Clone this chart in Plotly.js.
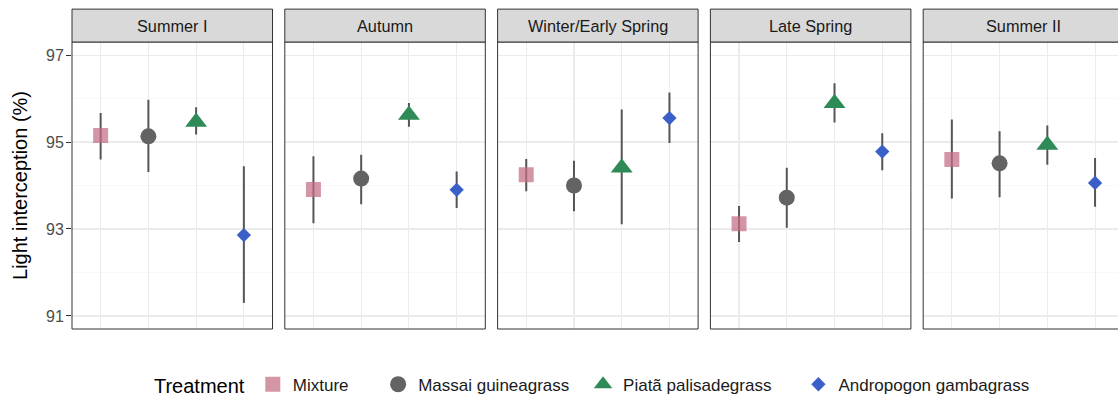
<!DOCTYPE html>
<html>
<head>
<meta charset="utf-8">
<script src="https://cdn.plot.ly/plotly-3.0.1.min.js"></script>
<style>
html, body { margin: 0; padding: 0; overflow: hidden; background: #fff; }
#chart { width: 1125px; height: 403px; }
</style>
</head>
<body>
<div id="chart"></div>
<script>
const seasons = ['Summer I', 'Autumn', 'Winter/Early Spring', 'Late Spring', 'Summer II'];
const treatments = ['Mixture', 'Massai guineagrass', 'Piatã palisadegrass', 'Andropogon gambagrass'];

const mixtureMean = [95.15, 93.91, 94.25, 93.12, 94.60];
const mixtureLow  = [94.60, 93.13, 93.87, 92.70, 93.70];
const mixtureHigh = [95.67, 94.67, 94.61, 93.53, 95.52];

const massaiMean = [95.13, 94.16, 94.00, 93.72, 94.51];
const massaiLow  = [94.31, 93.57, 93.41, 93.03, 93.73];
const massaiHigh = [95.97, 94.71, 94.57, 94.41, 95.25];

const piataMean = [95.46, 95.62, 94.41, 95.89, 94.93];
const piataLow  = [95.17, 95.35, 93.11, 95.45, 94.48];
const piataHigh = [95.80, 95.90, 95.75, 96.35, 95.38];

const andropMean = [92.86, 93.90, 95.55, 94.78, 94.06];
const andropLow  = [91.30, 93.48, 94.98, 94.35, 93.51];
const andropHigh = [94.44, 94.32, 96.14, 95.20, 94.63];

const yTicks = [91, 93, 95, 97];

const series = [
  {mean: mixtureMean, low: mixtureLow, high: mixtureHigh, color: 'rgba(196,110,132,0.72)', symbol: 'square', size: 15},
  {mean: massaiMean, low: massaiLow, high: massaiHigh, color: '#636363', symbol: 'circle', size: 16},
  {mean: piataMean, low: piataLow, high: piataHigh, color: '#2E8B57', symbol: 'triangle-up', size: 19},
  {mean: andropMean, low: andropLow, high: andropHigh, color: '#3A5FC8', symbol: 'diamond', size: 11}
];

const W = 1125, H = 403;
const mL = 72, mR = 1, mT = 42, mB = 73;
const plotW = W - mL - mR, plotH = H - mT - mB;
const panelW = 200.5, step = 212.8;
const stripH = 33;

const legendNames = ['legend', 'legend2', 'legend3', 'legend4'];
const legendX = [0.076, 0.291, 0.4858, 0.6905];

const traces = [];
const layout = {
  width: W, height: H,
  margin: {l: mL, r: mR, t: mT, b: mB, pad: 0},
  paper_bgcolor: '#fff', plot_bgcolor: '#fff',
  font: {family: 'Liberation Sans, Arial, sans-serif', color: '#1a1a1a'},
  showlegend: true,
  yaxis: {
    range: [90.7, 97.3], tickvals: yTicks, ticktext: yTicks.map(String),
    ticks: 'outside', ticklen: 5, tickwidth: 1, tickcolor: '#333',
    tickfont: {size: 16, color: '#4d4d4d'}, ticklabelstandoff: -1,
    showgrid: true, gridcolor: '#EBEBEB', gridwidth: 1.1,
    minor: {dtick: 1, tick0: 91, showgrid: true, gridcolor: '#F3F3F3', gridwidth: 0.6},
    zeroline: false, showline: false,
    title: {text: 'Light interception (%)', font: {size: 20, color: '#000'}, standoff: 13},
    domain: [0, 1]
  },
  shapes: [], annotations: []
};

legendNames.forEach((ln, k) => {
  layout[ln] = {
    orientation: 'h', x: legendX[k], xanchor: 'left', y: -0.19, yanchor: 'middle',
    font: {size: 17, color: '#1a1a1a'}, bgcolor: 'rgba(0,0,0,0)',
    itemsizing: 'trace', itemclick: false, itemdoubleclick: false
  };
});
layout.legend.title = {text: 'Treatment', side: 'left', font: {size: 20, color: '#000'}};

seasons.forEach((s, i) => {
  const ax = i === 0 ? 'xaxis' : 'xaxis' + (i + 1);
  const xr = i === 0 ? 'x' : 'x' + (i + 1);
  const d0 = (i * step) / plotW, d1 = (i * step + panelW) / plotW;
  layout[ax] = {
    domain: [d0, Math.min(d1, 1)], range: [0.4, 4.6], anchor: 'y',
    tickvals: [1, 2, 3, 4], showticklabels: false, ticks: '',
    showgrid: true, gridcolor: '#EBEBEB', gridwidth: 1.1,
    zeroline: false, showline: false, fixedrange: true
  };
  layout.shapes.push({type: 'rect', xref: xr + ' domain', yref: 'y domain', x0: 0, x1: 1, y0: 0, y1: 1,
    line: {color: '#333', width: 1}, fillcolor: 'rgba(0,0,0,0)', layer: 'above'});
  layout.shapes.push({type: 'rect', xref: xr + ' domain', yref: 'paper', x0: 0, x1: 1, y0: 1, y1: 1 + stripH / plotH,
    line: {color: '#333', width: 1}, fillcolor: '#D9D9D9', layer: 'above'});
  layout.annotations.push({text: s, xref: xr + ' domain', yref: 'paper', x: 0.5, y: 1 + stripH / 2 / plotH,
    xanchor: 'center', yanchor: 'middle', showarrow: false, font: {size: 16.3, color: '#1a1a1a'}});

  series.forEach((ser, k) => {
    traces.push({
      type: 'scatter', mode: 'markers', xaxis: xr, yaxis: 'y',
      x: [k + 1], y: [ser.mean[i]],
      name: treatments[k], legendgroup: treatments[k], showlegend: i === 0,
      legend: legendNames[k],
      marker: {symbol: ser.symbol, size: ser.size, color: ser.color, line: {width: 0}},
      error_y: {type: 'data', symmetric: false,
        array: [ser.high[i] - ser.mean[i]], arrayminus: [ser.mean[i] - ser.low[i]],
        color: '#555', thickness: 2, width: 0},
      hoverinfo: 'skip'
    });
  });
});

Plotly.newPlot('chart', traces, layout, {displayModeBar: false, staticPlot: true});
</script>
</body>
</html>
